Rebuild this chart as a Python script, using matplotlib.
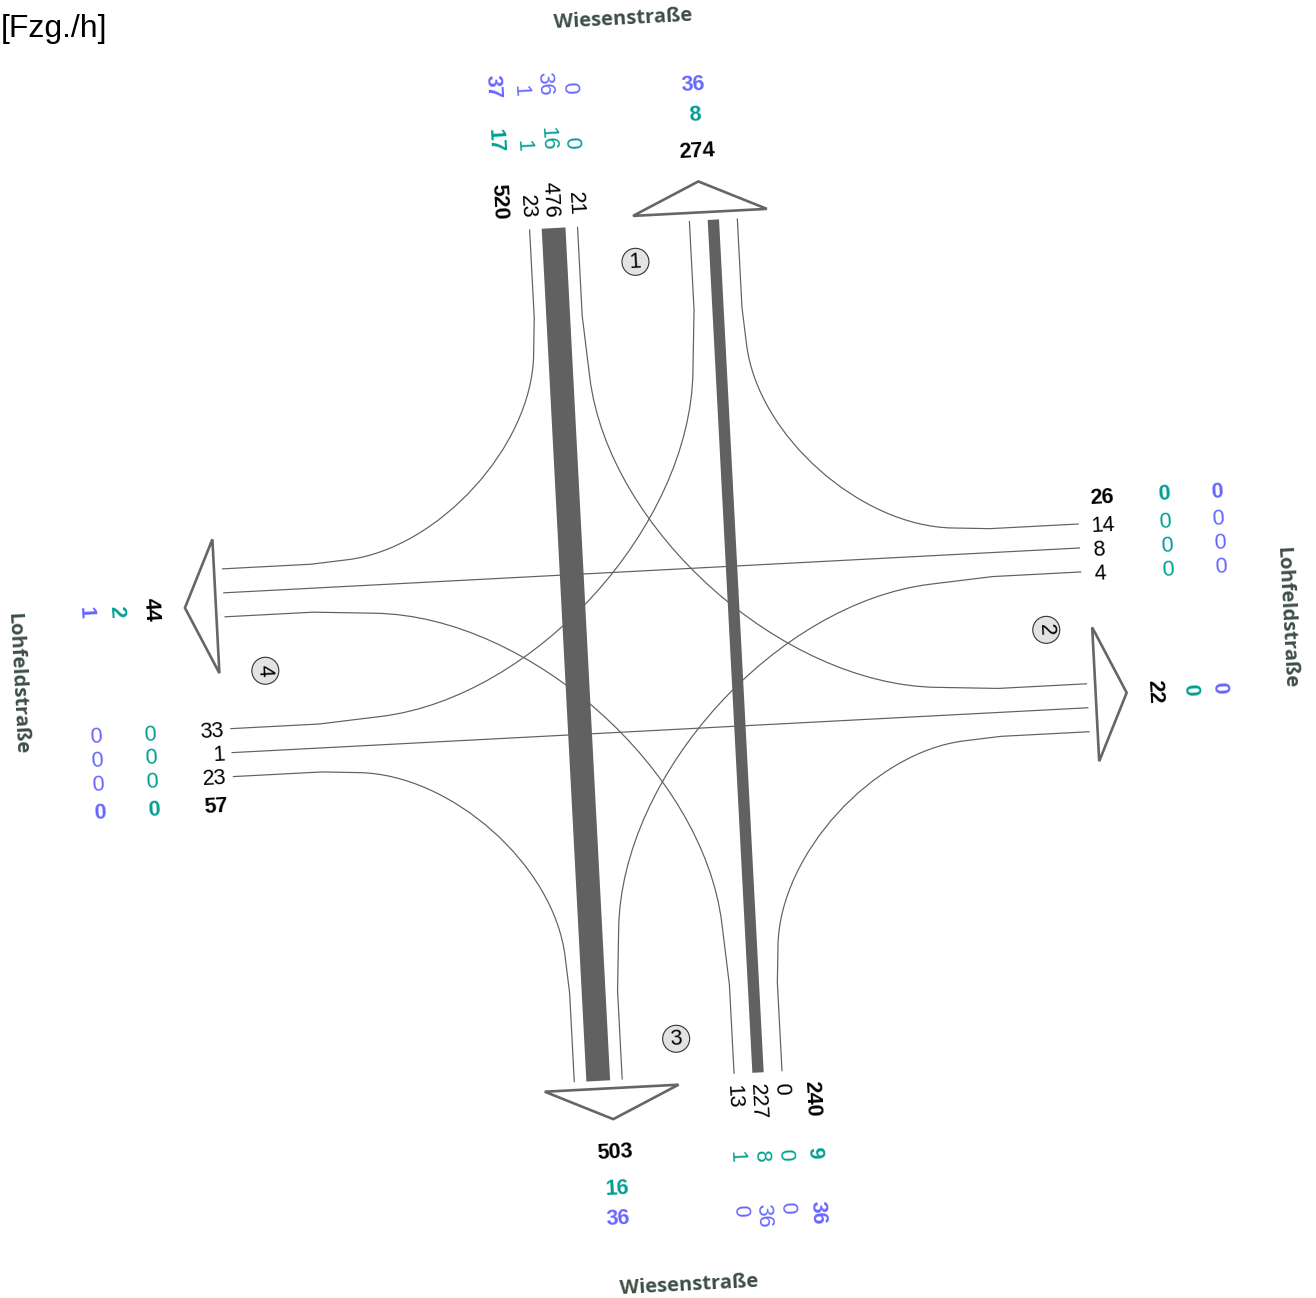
import numpy as np
import matplotlib.pyplot as plt
from matplotlib.path import Path
from matplotlib.patches import PathPatch, Polygon, Circle

plt.rcParams['font.family'] = ['Liberation Sans', 'DejaVu Sans']

# arms in order: top, right, bottom, left
road_names = ['Wiesenstraße', 'Lohfeldstraße', 'Wiesenstraße', 'Lohfeldstraße']
arm_numbers = ['1', '2', '3', '4']

# entering traffic per arm [Fzg./h], black = all vehicles
right_turn = [23, 14, 0, 23]
straight = [476, 8, 227, 1]
left_turn = [21, 4, 13, 33]
enter_sum = [520, 26, 240, 57]

# teal row
right_teal = [1, 0, 0, 0]
straight_teal = [16, 0, 8, 0]
left_teal = [0, 0, 1, 0]
enter_sum_teal = [17, 0, 9, 0]

# purple row
right_purple = [1, 0, 0, 0]
straight_purple = [36, 0, 36, 0]
left_purple = [0, 0, 0, 0]
enter_sum_purple = [37, 0, 36, 0]

# leaving traffic per arm
exit_sum = [274, 22, 503, 44]
exit_teal = [8, 0, 16, 2]
exit_purple = [36, 0, 36, 1]

GREY = '#616161'
TEAL = '#00a092'
PURPLE = '#6666ff'
ROAD = '#3d4f45'

CX, CY = 655.8, 650.3
TILT = np.radians(3.0)
PX_PER_VEH = 0.05
LANES = [104, 80, 56]
SUM_LANES = [132, 132, 134, 132]
FONT_SIZE = 15.5


def to_screen(u, v):
    x = CX + u * np.cos(TILT) + v * np.sin(TILT)
    y = CY - u * np.sin(TILT) + v * np.cos(TILT)
    return x, y


def arm_point(k, s, d):
    # s > 0 entry side of the arm, s < 0 exit side, d = distance from centre
    if k == 0:
        return to_screen(-s, -d)
    if k == 1:
        return to_screen(d + 2, -s)
    if k == 2:
        return to_screen(s, d)
    return to_screen(-d - 2, s)


def flow_width(value):
    # only the heavy flows are drawn to scale
    if value < 100:
        return 1.2
    return value * PX_PER_VEH


def draw_turn(ax, k_from, s_from, k_to, s_to, value):
    p0 = np.array(arm_point(k_from, s_from, 427))
    p1 = np.array(arm_point(k_from, s_from, 338))
    p2 = np.array(arm_point(k_to, s_to, 338))
    p3 = np.array(arm_point(k_to, s_to, 427))
    # corner where both lanes would meet
    d1 = p1 - p0
    d2 = p2 - p3
    t = np.linalg.solve(np.array([d1, -d2]).T, p2 - p1)
    corner = p1 + t[0] * d1
    sweep = np.linalg.norm(corner - p1)
    e1 = (corner - p1) / sweep
    e2 = (corner - p2) / np.linalg.norm(corner - p2)
    # short chord after the lane ends, then the bend itself
    a = p1 + sweep * (0.157 * e1 - 0.011 * e2)
    b = p2 + sweep * (0.157 * e2 - 0.011 * e1)
    c1 = a + 0.39 * sweep * (e1 - 0.07 * e2)
    c2 = b + 0.39 * sweep * (e2 - 0.07 * e1)
    path = Path([p0, p1, a, c1, c2, b, p2, p3],
                [Path.MOVETO, Path.LINETO, Path.LINETO, Path.CURVE4, Path.CURVE4, Path.CURVE4,
                 Path.LINETO, Path.LINETO])
    ax.add_patch(PathPatch(path, fill=False, edgecolor=GREY, lw=flow_width(value) * 0.72))


def draw_straight(ax, k_from, s_from, k_to, s_to, value):
    p0 = arm_point(k_from, s_from, 427)
    p1 = arm_point(k_to, s_to, 427)
    ax.plot([p0[0], p1[0]], [p0[1], p1[1]], color=GREY, lw=flow_width(value) * 0.72,
            solid_capstyle='butt')


def rotated_text(ax, x, y, txt, rot, shift=1.8, **kwargs):
    # va='center' sits a bit high, push down in the text's own frame
    x = x + shift * np.sin(np.radians(rot))
    y = y + shift * np.cos(np.radians(rot))
    ax.text(x, y, txt, rotation=rot, rotation_mode='anchor', va='center', **kwargs)


def label(ax, k, s, d, value, color, bold=False, along=False, ha='center', shift=1.8):
    x, y = arm_point(k, s, d)
    if along:
        rot = -87 if k in (0, 2) else 3
    else:
        rot = 3 if k in (0, 2) else -87
    rotated_text(ax, x, y, str(value), rot, shift=shift, color=color, fontsize=FONT_SIZE, ha=ha,
                 fontweight='bold' if bold else 'normal')


fig = plt.figure(figsize=(13.16, 12.98), dpi=100)
ax = fig.add_axes([0, 0, 1, 1])
ax.set_xlim(0, 1316)
ax.set_ylim(1298, 0)
ax.axis('off')

for k in range(4):
    draw_turn(ax, k, LANES[0], (k - 1) % 4, -LANES[0], right_turn[k])
    draw_straight(ax, k, LANES[1], (k + 2) % 4, -LANES[1], straight[k])
    draw_turn(ax, k, LANES[2], (k + 1) % 4, -LANES[2], left_turn[k])

# exit arrows
for k in range(4):
    pts = [arm_point(k, 0, 435), arm_point(k, -67, 466), arm_point(k, -134, 435)]
    ax.add_patch(Polygon(pts, closed=True, fill=False, edgecolor='#666666', lw=1.9, joinstyle='miter'))

# arm number circles
for k in range(4):
    x, y = arm_point(k, 0, 389)
    ax.add_patch(Circle((x, y), 13.5, facecolor='#e3e3e3', edgecolor='#333333', lw=0.8))
    rotated_text(ax, x, y, arm_numbers[k], 3 if k in (0, 2) else -87, shift=0.8,
                 fontsize=FONT_SIZE, color='black', ha='center')

# entry labels, rows are distances of the text end next to the arm
rows = [(438, 505, 560), (439.5, 507.5, 560.5), (438, 504, 558), (433.5, 502, 556)]
aligns = ['right', 'left', 'left', 'right']
shifts = [1.8, 3.0, 1.8, 1.8]
for k in range(4):
    black = [right_turn[k], straight[k], left_turn[k]]
    teal = [right_teal[k], straight_teal[k], left_teal[k]]
    purple = [right_purple[k], straight_purple[k], left_purple[k]]
    for i, s in enumerate(LANES):
        label(ax, k, s, rows[k][0], black[i], 'black', along=True, ha=aligns[k], shift=shifts[k])
        label(ax, k, s, rows[k][1], teal[i], TEAL, along=True, ha=aligns[k], shift=shifts[k])
        label(ax, k, s, rows[k][2], purple[i], PURPLE, along=True, ha=aligns[k], shift=shifts[k])
    label(ax, k, SUM_LANES[k], rows[k][0], enter_sum[k], 'black', bold=True, along=True,
          ha=aligns[k], shift=shifts[k])
    label(ax, k, SUM_LANES[k], rows[k][1], enter_sum_teal[k], TEAL, bold=True, along=True,
          ha=aligns[k], shift=shifts[k])
    label(ax, k, SUM_LANES[k], rows[k][2], enter_sum_purple[k], PURPLE, bold=True, along=True,
          ha=aligns[k], shift=shifts[k])

# exit labels
exit_rows = [(498, 534, 564), (496, 531, 560), (498, 534, 564), (498, 533.5, 564)]
for k in range(4):
    label(ax, k, -67, exit_rows[k][0], exit_sum[k], 'black', bold=True)
    label(ax, k, -67, exit_rows[k][1], exit_teal[k], TEAL, bold=True)
    label(ax, k, -67, exit_rows[k][2], exit_purple[k], PURPLE, bold=True)

# road names
name_dist = [634, 633, 633, 634]
name_shift = [2.5, 4, 2.5, 4]
for k in range(4):
    x, y = arm_point(k, 0, name_dist[k])
    rotated_text(ax, x, y, road_names[k], 3 if k in (0, 2) else -87, shift=name_shift[k],
                 family=['Open Sans', 'DejaVu Sans'], fontsize=14.5, fontweight='bold',
                 color=ROAD, ha='center')

ax.text(1, 37, '[Fzg./h]', fontsize=23, color='black', ha='left', va='baseline')

plt.savefig('out.png', dpi=100)
